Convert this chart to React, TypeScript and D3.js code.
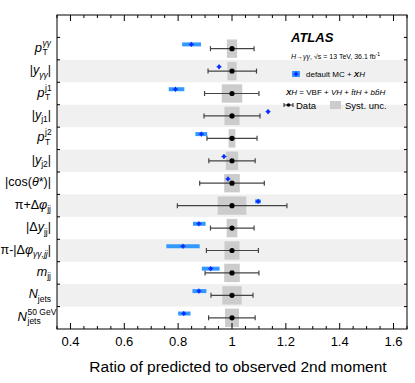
import React from "react";
import * as d3 from "d3";

// ratio of predicted to observed 2nd moment, one row per variable
const variables = ["pTyy", "yyy", "pTj1", "yj1", "pTj2", "yj2", "costheta", "pidphijj", "dyjj", "pidphiyyjj", "mjj", "njets", "njets50"];
const predicted = [0.849, 0.952, 0.79, 1.134, 0.886, 0.97, 0.985, 1.097, 0.877, 0.818, 0.921, 0.877, 0.821];
const predLo = [0.815, 0.949, 0.765, 1.131, 0.864, 0.967, 0.982, 1.086, 0.855, 0.756, 0.888, 0.853, 0.8];
const predHi = [0.885, 0.955, 0.823, 1.137, 0.908, 0.973, 0.988, 1.107, 0.902, 0.88, 0.954, 0.905, 0.846];
const dataLo = [0.92, 0.911, 0.898, 0.896, 0.907, 0.914, 0.88, 0.797, 0.92, 0.905, 0.9, 0.922, 0.913];
const dataHi = [1.082, 1.091, 1.1, 1.104, 1.093, 1.086, 1.12, 1.204, 1.082, 1.098, 1.1, 1.078, 1.086];
const systErr = [0.019, 0.017, 0.038, 0.028, 0.0125, 0.023, 0.029, 0.053, 0.02, 0.028, 0.029, 0.036, 0.026];

const xTicks = [0.4, 0.6, 0.8, 1, 1.2, 1.4, 1.6];
const xTickLabels = ["0.4", "0.6", "0.8", "1", "1.2", "1.4", "1.6"];

// label pieces, either a run of parts or a stacked sub/sup
type Part = { t: string; it?: boolean; sub?: boolean };
const labels: { parts?: Part[]; stack?: { main: string; sub: string; sup: string; w: number } }[] = [
  { stack: { main: "p", sub: "T", sup: "γγ", w: 9 } },
  { parts: [{ t: "|" }, { t: "y", it: true }, { t: "γγ", it: true, sub: true }, { t: "|" }] },
  { stack: { main: "p", sub: "T", sup: "j1", w: 6.5 } },
  { parts: [{ t: "|" }, { t: "y", it: true }, { t: "j1", sub: true }, { t: "|" }] },
  { stack: { main: "p", sub: "T", sup: "j2", w: 6.5 } },
  { parts: [{ t: "|" }, { t: "y", it: true }, { t: "j2", sub: true }, { t: "|" }] },
  { parts: [{ t: "|cos(" }, { t: "θ", it: true }, { t: "*)|" }] },
  { parts: [{ t: "π+Δ" }, { t: "φ", it: true }, { t: "jj", sub: true }] },
  { parts: [{ t: "|Δ" }, { t: "y", it: true }, { t: "jj", sub: true }, { t: "|" }] },
  { parts: [{ t: "π-|Δ" }, { t: "φ", it: true }, { t: "γγ,jj", it: true, sub: true }, { t: "|" }] },
  { parts: [{ t: "m", it: true }, { t: "jj", sub: true }] },
  { parts: [{ t: "N", it: true }, { t: "jets", sub: true }] },
  { stack: { main: "N", sub: "jets", sup: "50 GeV", w: 24 } },
];

const FONT = "'Liberation Sans', Arial, Helvetica, sans-serif";
const BLUE_BAND = "#3399ff";
const BLUE_MARK = "#0a2dff";

function BlueMarker({ cx, cy }: { cx: number; cy: number }) {
  return (
    <g>
      <line x1={cx - 2.5} x2={cx + 2.5} y1={cy} y2={cy} stroke={BLUE_MARK} strokeWidth={1} />
      <line x1={cx} x2={cx} y1={cy - 2.5} y2={cy + 2.5} stroke={BLUE_MARK} strokeWidth={1} />
      <circle cx={cx} cy={cy} r={1.8} fill={BLUE_MARK} />
    </g>
  );
}

export default function App() {
  const W = 415;
  const H = 383;
  const x = d3.scaleLinear().domain([0.35, 1.65]).range([57, 407]);
  const y = d3.scaleBand().domain(["legend", ...variables]).range([15, 329]);
  const bw = y.bandwidth();
  const minorTicks = d3.range(7, 34).map((i) => i * 0.05);
  const labelRight = 51;

  return (
    <svg width={W} height={H} style={{ position: "absolute", left: 0, top: 0 }} fontFamily={FONT}>
      <rect width={W} height={H} fill="#fff" />

      {/* alternating row shading */}
      {variables.map((v, i) =>
        i % 2 === 1 ? <rect key={v} x={x(0.35)} width={x(1.65) - x(0.35)} y={y(v)} height={bw} fill="#f0f0f0" /> : null
      )}

      {/* rows */}
      {variables.map((v, i) => {
        const cy = (y(v) as number) + bw / 2;
        const by = cy - bw * 0.19;
        return (
          <g key={v}>
            <rect x={x(1 - systErr[i])} width={x(1 + systErr[i]) - x(1 - systErr[i])} y={cy - bw * 0.41} height={bw * 0.82} fill="#cccccc" />
            <line x1={x(dataLo[i])} x2={x(dataHi[i])} y1={cy} y2={cy} stroke="#444" strokeWidth={1.2} />
            <line x1={x(dataLo[i])} x2={x(dataLo[i])} y1={cy - 2.5} y2={cy + 2.5} stroke="#444" strokeWidth={1.2} />
            <line x1={x(dataHi[i])} x2={x(dataHi[i])} y1={cy - 2.5} y2={cy + 2.5} stroke="#444" strokeWidth={1.2} />
            <circle cx={x(1)} cy={cy} r={2.6} fill="#000" />
            <rect x={x(predLo[i])} width={x(predHi[i]) - x(predLo[i])} y={by - 2} height={4} fill={BLUE_BAND} />
            <BlueMarker cx={x(predicted[i])} cy={by} />
          </g>
        );
      })}

      {/* frame */}
      <rect x={57} y={15} width={350} height={314} fill="none" stroke="#000" strokeWidth={1} />

      {/* x ticks, bottom and top */}
      {minorTicks.map((t, i) => {
        const major = xTicks.some((m) => Math.abs(m - t) < 1e-6);
        const len = major ? 6 : 3;
        return (
          <g key={i}>
            <line x1={x(t)} x2={x(t)} y1={329} y2={329 - len} stroke="#000" />
            <line x1={x(t)} x2={x(t)} y1={15} y2={15 + len} stroke="#000" />
          </g>
        );
      })}
      {xTicks.map((t, i) => (
        <text key={t} x={x(t)} y={346} fontSize={13} textAnchor="middle" fill="#000">
          {xTickLabels[i]}
        </text>
      ))}

      {/* y ticks at row boundaries */}
      {variables.map((v) => (
        <g key={v}>
          <line x1={57} x2={60} y1={y(v)} y2={y(v)} stroke="#000" />
          <line x1={407} x2={404} y1={y(v)} y2={y(v)} stroke="#000" />
        </g>
      ))}

      {/* y labels */}
      {variables.map((v, i) => {
        const cy = (y(v) as number) + bw / 2;
        const base = cy + 3;
        const lab = labels[i];
        if (lab.stack) {
          const x0 = labelRight - lab.stack.w;
          return (
            <g key={v} fill="#000">
              <text x={x0} y={base} fontSize={13} fontStyle="italic" textAnchor="end">{lab.stack.main}</text>
              <text x={x0 + 0.5} y={base + 3.5} fontSize={8.5}>{lab.stack.sub}</text>
              <text x={x0 + 0.5} y={base - 6} fontSize={8.5} fontStyle={lab.stack.sup === "γγ" ? "italic" : "normal"}>{lab.stack.sup}</text>
            </g>
          );
        }
        let prevSub = false;
        return (
          <text key={v} x={labelRight} y={base} fontSize={12.5} textAnchor="end" fill="#000">
            {lab.parts!.map((p, j) => {
              let dy = 0;
              if (p.sub && !prevSub) dy = 3.5;
              if (!p.sub && prevSub) dy = -3.5;
              prevSub = !!p.sub;
              return (
                <tspan key={j} dy={dy} fontSize={p.sub ? 8.5 : 12.5} fontStyle={p.it ? "italic" : "normal"}>
                  {p.t}
                </tspan>
              );
            })}
          </text>
        );
      })}

      {/* legend */}
      <text x={291} y={42} fontSize={13} fontWeight="bold" fontStyle="italic" fill="#000">ATLAS</text>
      <text x={291} y={59} fontSize={7} fill="#000">
        <tspan fontStyle="italic">H</tspan>
        <tspan>→</tspan>
        <tspan fontStyle="italic">γγ</tspan>
        <tspan>, √s = 13 TeV, 36.1 fb</tspan>
        <tspan dy={-3} fontSize={5}>-1</tspan>
      </text>
      <rect x={292} y={71} width={8} height={6} fill={BLUE_BAND} />
      <BlueMarker cx={296} cy={74} />
      <text x={306} y={77} fontSize={8} fill="#000">
        default MC + <tspan fontWeight="bold" fontStyle="italic">X</tspan>
        <tspan fontStyle="italic">H</tspan>
      </text>
      <text x={286} y={95} fontSize={8} fill="#000">
        <tspan fontWeight="bold" fontStyle="italic">X</tspan>
        <tspan fontStyle="italic">H</tspan>
        <tspan>  =  VBF + </tspan>
        <tspan fontStyle="italic">VH</tspan>
        <tspan> + </tspan>
        <tspan fontStyle="italic">{"t\u0304t"}H</tspan>
        <tspan> + </tspan>
        <tspan fontStyle="italic">{"bb\u0304"}H</tspan>
      </text>
      <line x1={284} x2={293} y1={105} y2={105} stroke="#444" strokeWidth={1.2} />
      <line x1={284} x2={284} y1={103} y2={107} stroke="#444" strokeWidth={1.2} />
      <line x1={293} x2={293} y1={103} y2={107} stroke="#444" strokeWidth={1.2} />
      <circle cx={288.5} cy={105} r={1.8} fill="#000" />
      <text x={296} y={109} fontSize={9.5} fill="#000">Data</text>
      <rect x={330} y={101} width={11} height={8} fill="#cccccc" />
      <text x={345} y={109} fontSize={9.5} fill="#000">Syst. unc.</text>

      {/* x axis title */}
      <text x={238} y={372} fontSize={15.5} textAnchor="middle" fill="#000">
        Ratio of predicted to observed 2nd moment
      </text>
    </svg>
  );
}
